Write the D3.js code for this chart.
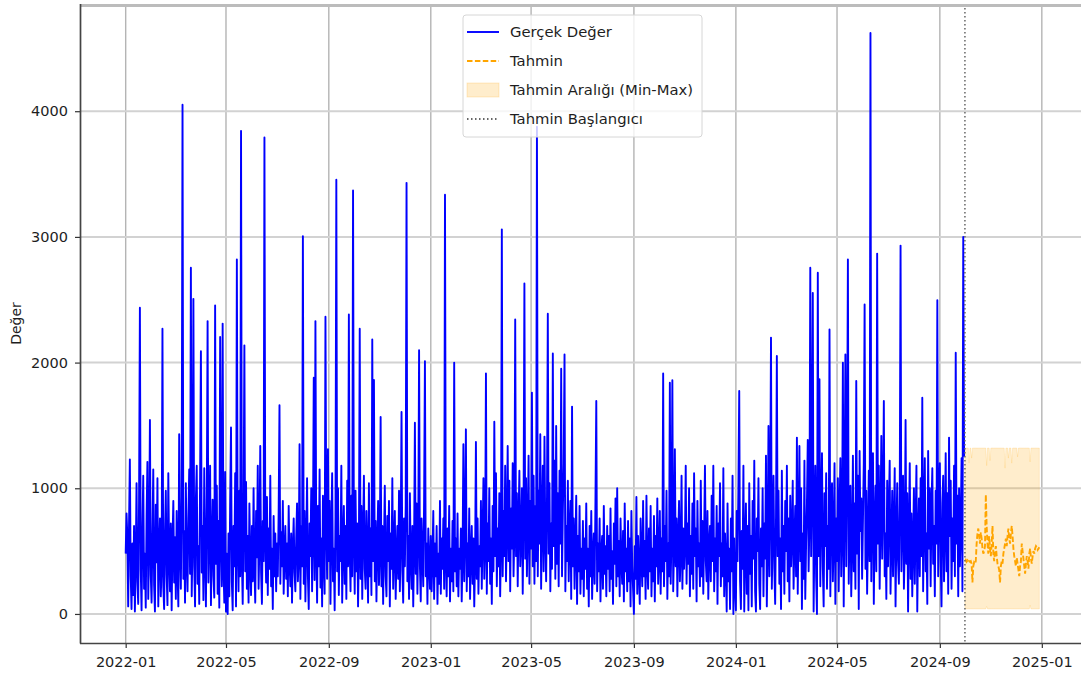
<!DOCTYPE html>
<html>
<head>
<meta charset="utf-8">
<script src="https://cdn.jsdelivr.net/npm/d3@7"></script>
<style>
  body { margin: 0; background: #fff; }
  svg { display: block; font-family: "DejaVu Sans", sans-serif; }
</style>
</head>
<body>
<svg id="chart" width="1081" height="681"></svg>
<script>
// daily values, one month per row
const actual2022 = [
  480, 800, 620, 60, 700, 1230, 300, 40, 560, 150, 700, 20, 420, 1040, 260, 80, 900, 2436, 350, 30, 650, 1100, 200, 480, 50, 780, 1210, 120, 540, 1544, 310,
  90, 620, 1150, 230, 20, 870, 410, 1080, 60, 500, 760, 140, 380, 2269, 220, 40, 640, 980, 310, 70, 1120, 450, 180, 720, 30, 560, 900, 250,
  610, 120, 820, 350, 60, 1430, 500, 200, 940, 4051, 280, 660, 90, 1040, 430, 180, 760, 1150, 320, 2754, 140, 600, 2507, 380, 60, 920, 1180, 240, 540, 80, 1060,
  2091, 330, 700, 110, 1160, 480, 60, 860, 2330, 250, 620, 1180, 70, 540, 910, 300, 130, 2455, 400, 1020, 160, 740, 50, 2204, 580, 220, 2310, 360, 90, 1130,
  20, 480, 0, 640, 140, 900, 1483, 250, 30, 700, 380, 1120, 60, 2820, 520, 180, 980, 300, 3844, 440, 80, 760, 2137, 340, 1050, 200, 620, 90, 880, 410, 150,
  700, 260, 1000, 380, 90, 820, 450, 1180, 200, 560, 1337, 330, 80, 740, 420, 3791, 600, 250, 930, 150, 680, 360, 1100, 220, 520, 40, 780, 300, 640, 180,
  560, 300, 820, 1660, 240, 650, 380, 900, 160, 470, 700, 280, 560, 140, 860, 420, 220, 640, 90, 520, 760, 330, 180, 600, 880, 260, 450, 1350, 120, 700, 380,
  3005, 240, 820, 100, 560, 1080, 300, 40, 720, 460, 1000, 180, 640, 1880, 270, 2330, 520, 90, 860, 380, 1150, 210, 600, 60, 940, 430, 160, 2365, 700, 280, 1310,
  420, 900, 80, 640, 1120, 260, 520, 30, 780, 3455, 340, 1000, 150, 620, 420, 1180, 90, 560, 860, 240, 700, 120, 1060, 380, 2383, 500, 180, 940, 300, 3370,
  600, 160, 980, 340, 720, 60, 520, 2269, 280, 860, 120, 640, 1100, 360, 200, 820, 480, 90, 1040, 300, 680, 150, 2184, 420, 1861, 260, 740, 100, 560, 900, 230,
  480, 1567, 220, 700, 80, 560, 1020, 300, 140, 780, 420, 900, 60, 640, 360, 1080, 200, 520, 820, 120, 460, 700, 280, 980, 180, 600, 1607, 340, 90, 760,
  380, 860, 3430, 260, 620, 120, 960, 440, 200, 700, 60, 540, 1522, 320, 880, 160, 600, 2099, 380, 100, 760, 460, 220, 900, 2012, 300, 560, 80, 680, 420, 200
];
const actual2023 = [
  620, 180, 440, 820, 120, 560, 300, 700, 80, 480, 240, 900, 160, 600, 360, 760, 200, 3336, 420, 140, 680, 300, 860, 100, 520, 260, 740, 180, 1999, 340, 600,
  220, 800, 140, 520, 360, 680, 100, 460, 1350, 260, 620, 1469, 180, 560, 300, 840, 120, 480, 700, 240, 600, 60, 440, 1369, 280, 760, 160, 540,
  380, 900, 200, 640, 1080, 280, 520, 1914, 160, 720, 420, 1000, 240, 600, 80, 860, 340, 1530, 460, 1120, 220, 680, 380, 960, 140, 560, 3060, 300, 820, 460, 1180,
  260, 700, 1337, 420, 1060, 180, 840, 520, 1200, 300, 640, 2343, 460, 960, 220, 760, 1140, 380, 600, 1000, 160, 820, 2629, 440, 1080, 300, 700, 1260, 240, 900,
  520, 1761, 380, 1100, 240, 860, 420, 3876, 300, 980, 560, 1430, 200, 760, 1180, 340, 1411, 640, 260, 900, 2388, 480, 1040, 180, 720, 360, 2073, 540, 1220, 280, 1496,
  400, 960, 220, 1140, 560, 1951, 300, 820, 1200, 2065, 180, 700, 420, 1060, 260, 640, 900, 120, 1650, 380, 760, 200, 560, 940, 80, 620, 340, 860, 160, 520,
  280, 740, 140, 600, 360, 880, 200, 520, 60, 700, 300, 820, 120, 460, 640, 240, 900, 1694, 180, 560, 340, 760, 100, 480, 620, 200, 860, 320, 540, 140, 700,
  360, 620, 180, 840, 280, 500, 80, 720, 400, 920, 220, 1000, 300, 580, 140, 760, 420, 240, 660, 100, 880, 340, 520, 180, 740, 260, 600, 60, 820, 380, 200,
  0, 540, 280, 930, 160, 620, 360, 80, 760, 440, 220, 900, 300, 580, 120, 940, 400, 200, 680, 340, 860, 140, 520, 260, 780, 100, 620, 380, 920, 240,
  460, 820, 160, 600, 340, 1914, 220, 700, 420, 980, 120, 560, 300, 1840, 240, 640, 1859, 180, 520, 1310, 380, 760, 140, 600, 900, 260, 480, 1100, 200, 680, 360,
  560, 1180, 240, 720, 400, 1000, 140, 620, 320, 880, 200, 1120, 460, 680, 100, 900, 380, 560, 220, 1060, 300, 740, 160, 620, 1180, 420, 260, 820, 120, 560,
  700, 260, 940, 420, 1180, 180, 600, 340, 860, 80, 720, 460, 1040, 220, 560, 300, 1160, 140, 640, 400, 20, 880, 260, 520, 40, 760, 340, 1100, 0, 600, 220
];
// 2024 runs until 2024-09-30
const actual2024 = [
  30, 820, 420, 1000, 1774, 260, 40, 660, 360, 1180, 20, 540, 880, 160, 700, 30, 1040, 320, 620, 60, 900, 440, 1220, 180, 20, 760, 500, 1080, 240, 40, 680,
  380, 1000, 140, 720, 440, 1260, 60, 560, 1496, 300, 860, 2199, 200, 640, 1100, 360, 80, 780, 2053, 460, 980, 240, 600, 40, 1140, 340, 700, 160, 900,
  500, 1180, 260, 760, 100, 940, 380, 620, 1060, 200, 540, 860, 300, 1403, 160, 700, 1337, 420, 1000, 40, 640, 280, 1220, 120, 560, 880, 1385, 340, 740, 2754, 460,
  1000, 2555, 20, 640, 1180, 300, 0, 2715, 460, 1867, 220, 820, 1280, 380, 60, 960, 540, 1120, 200, 700, 360, 2264, 140, 880, 1040, 260, 620, 1200, 80, 760,
  420, 1080, 180, 800, 1240, 300, 620, 1999, 60, 940, 2065, 380, 1160, 2820, 240, 700, 1020, 140, 560, 1260, 340, 880, 200, 1854, 480, 1100, 40, 1297, 660, 920, 280,
  740, 1200, 2462, 360, 980, 160, 620, 1140, 420, 4622, 260, 860, 1280, 80, 700, 1020, 340, 2867, 560, 1180, 200, 760, 1417, 440, 900, 1694, 300, 640, 120, 1060,
  380, 820, 1220, 160, 560, 980, 300, 700, 1160, 60, 620, 1040, 420, 240, 880, 2931, 340, 760, 1100, 200, 520, 1544, 400, 960, 20, 680, 1200, 280, 800, 140, 560,
  1000, 240, 720, 1180, 20, 600, 920, 300, 1080, 460, 1721, 180, 760, 1240, 340, 640, 80, 1297, 520, 1000, 220, 860, 1160, 400, 700, 140, 980, 560, 2496, 300, 820,
  1200, 420, 60, 880, 1100, 260, 700, 1280, 340, 960, 160, 1403, 620, 1060, 200, 760, 420, 1180, 300, 2078, 560, 940, 140, 1000, 380, 720, 1240, 180, 3000, 1250
];
// forecast from 2024-10-01, 90 days
const forecastValues = [
  420, 430, 415, 425, 410, 420, 415, 420, 400, 250,
  380, 410, 400, 420, 560, 640, 680, 620, 560, 650,
  600, 520, 480, 500, 540, 950, 700, 560, 480, 620,
  520, 460, 560, 700, 480, 420, 500, 540, 460, 400,
  380, 350, 250, 380, 420, 400, 480, 520, 560, 600,
  540, 620, 680, 600, 560, 640, 700, 620, 520, 460,
  420, 380, 450, 400, 350, 300, 380, 420, 560, 500,
  440, 380, 320, 400, 460, 420, 360, 480, 520, 440,
  400, 460, 500, 480, 520, 540, 530, 510, 520, 530
];
const forecastMin = [
  40, 40, 40, 40, 40, 40, 40, 40, 40, 40,
  40, 40, 40, 40, 40, 40, 40, 40, 40, 40,
  40, 40, 40, 40, 40, 40, 60, 40, 40, 40,
  40, 40, 40, 40, 40, 40, 40, 40, 40, 40,
  40, 40, 40, 40, 40, 40, 40, 40, 40, 40,
  40, 40, 40, 40, 40, 40, 40, 40, 40, 40,
  40, 40, 40, 40, 40, 40, 40, 40, 40, 40,
  40, 40, 40, 40, 40, 40, 40, 40, 70, 40,
  40, 40, 40, 40, 40, 40, 40, 40, 40, 40
];
const forecastMax = [
  1320, 1320, 1320, 1320, 1320, 1200, 1320, 1320, 1240, 1320,
  1320, 1320, 1320, 1320, 1320, 1320, 1320, 1320, 1320, 1320,
  1320, 1320, 1320, 1320, 1320, 1320, 1180, 1320, 1320, 1320,
  1220, 1320, 1320, 1320, 1320, 1320, 1320, 1320, 1320, 1320,
  1320, 1320, 1320, 1320, 1320, 1320, 1320, 1320, 1160, 1320,
  1320, 1320, 1240, 1320, 1320, 1320, 1200, 1320, 1320, 1320,
  1320, 1320, 1320, 1250, 1320, 1320, 1320, 1320, 1320, 1320,
  1320, 1320, 1320, 1320, 1320, 1320, 1320, 1320, 1210, 1320,
  1320, 1320, 1320, 1320, 1320, 1320, 1320, 1320, 1320, 1320
];
const yTicks = [0, 1000, 2000, 3000, 4000];
const legendLabels = ["Gerçek Değer", "Tahmin", "Tahmin Aralığı (Min-Max)", "Tahmin Başlangıcı"];
const yLabel = "Değer";

const actualStart = new Date(Date.UTC(2022, 0, 1));
const forecastStart = new Date(Date.UTC(2024, 9, 1));
const DAY = 864e5;

class ForecastChart {
  constructor(svg) {
    this.svg = svg;
    this.left = 80;
    this.right = 1085; // right edge falls just outside the picture
    this.top = 4;
    this.bottom = 643;
    this.fontSize = 14.5;
    this.lineWidth = 1.9; // the original is a little soft, lines read wider
  }

  loadData() {
    this.actual = actual2022.concat(actual2023, actual2024).map((v, i) => ({
      date: new Date(+actualStart + i * DAY), value: v
    }));
    this.forecast = forecastValues.map((v, i) => ({
      date: new Date(+forecastStart + i * DAY),
      value: v, min: forecastMin[i], max: forecastMax[i]
    }));
  }

  initialize() {
    // matplotlib style 5% padding on both axes
    const first = this.actual[0].date;
    const last = this.forecast[this.forecast.length - 1].date;
    const xPad = (last - first) * 0.05;
    this.x = d3.scaleUtc()
      .domain([new Date(+first - xPad), new Date(+last + xPad)])
      .range([this.left, this.right]);

    const all = this.actual.map(d => d.value)
      .concat(forecastValues, forecastMin, forecastMax);
    const [lo, hi] = d3.extent(all);
    const yPad = (hi - lo) * 0.05;
    this.y = d3.scaleLinear()
      .domain([lo - yPad, hi + yPad])
      .range([this.bottom, this.top]);

    this.xTicks = this.x.ticks(d3.utcMonth.every(4));
  }

  drawGrid() {
    const g = this.svg.append("g");
    g.selectAll(".vgrid")
      .data(this.xTicks)
      .enter()
      .append("line")
      .attr("x1", d => this.x(d)).attr("x2", d => this.x(d))
      .attr("y1", this.top).attr("y2", this.bottom)
      .style("stroke", "#b4b4b4")
      .style("stroke-width", 1.4);
    g.selectAll(".hgrid")
      .data(yTicks)
      .enter()
      .append("line")
      .attr("x1", this.left).attr("x2", this.right)
      .attr("y1", d => this.y(d)).attr("y2", d => this.y(d))
      .style("stroke", "#d2d2d2")
      .style("stroke-width", 2);
  }

  drawSeries() {
    this.svg.append("clipPath").attr("id", "plotclip")
      .append("rect")
      .attr("x", this.left).attr("y", this.top)
      .attr("width", this.right - this.left).attr("height", this.bottom - this.top);
    const g = this.svg.append("g").attr("clip-path", "url(#plotclip)");

    const band = d3.area()
      .x(d => this.x(d.date))
      .y0(d => this.y(d.min))
      .y1(d => this.y(d.max));
    g.append("path")
      .datum(this.forecast)
      .attr("d", band)
      .style("fill", "orange")
      .style("fill-opacity", 0.2)
      .style("stroke", "orange")
      .style("stroke-opacity", 0.2)
      .style("stroke-width", 0.8);

    const line = d3.line()
      .x(d => this.x(d.date))
      .y(d => this.y(d.value));
    g.append("path")
      .datum(this.actual)
      .attr("d", line)
      .style("fill", "none")
      .style("stroke", "blue")
      .style("stroke-width", this.lineWidth)
      .style("stroke-linejoin", "round");

    g.append("path")
      .datum(this.forecast)
      .attr("d", line)
      .style("fill", "none")
      .style("stroke", "orange")
      .style("stroke-width", this.lineWidth)
      .style("stroke-dasharray", "5.5,2.4");

    const xs = this.x(forecastStart);
    g.append("line")
      .attr("x1", xs).attr("x2", xs)
      .attr("y1", this.top).attr("y2", this.bottom)
      .style("stroke", "#666")
      .style("stroke-width", 1.5)
      .style("stroke-dasharray", "1.5,2.5");
  }

  drawAxes() {
    const fmt = d3.utcFormat("%Y-%m");
    const xAxis = this.svg.append("g")
      .attr("transform", `translate(0,${this.bottom})`)
      .call(d3.axisBottom(this.x).tickValues(this.xTicks).tickFormat(fmt).tickSize(5).tickPadding(9));
    const yAxis = this.svg.append("g")
      .attr("transform", `translate(${this.left},0)`)
      .call(d3.axisLeft(this.y).tickValues(yTicks).tickFormat(d3.format("d")).tickSize(5).tickPadding(7));

    [xAxis, yAxis].forEach(a => {
      a.select(".domain").remove();
      a.selectAll(".tick line").style("stroke", "#333").style("stroke-width", 1.2);
      a.selectAll(".tick text")
        .style("font-family", "DejaVu Sans")
        .style("font-size", this.fontSize + "px")
        .style("fill", "#1e1e1e");
    });

    // spines: top one looks washed out in the original
    this.svg.append("line")
      .attr("x1", this.left).attr("x2", 1081)
      .attr("y1", this.top + 1.5).attr("y2", this.top + 1.5)
      .style("stroke", "#bcbcbc").style("stroke-width", 3);
    this.svg.append("line")
      .attr("x1", this.left + 0.5).attr("x2", this.left + 0.5)
      .attr("y1", this.top).attr("y2", this.bottom + 0.5)
      .style("stroke", "#444").style("stroke-width", 1.7);
    this.svg.append("line")
      .attr("x1", this.left).attr("x2", this.right)
      .attr("y1", this.bottom + 0.5).attr("y2", this.bottom + 0.5)
      .style("stroke", "#444").style("stroke-width", 1.7);

    this.svg.append("text")
      .attr("transform", `translate(20.5,${(this.top + this.bottom) / 2}) rotate(-90)`)
      .style("text-anchor", "middle")
      .style("font-size", "14px")
      .style("fill", "#1e1e1e")
      .text(yLabel);
  }

  drawLegend() {
    const lg = this.svg.append("g").attr("transform", "translate(463,15)");
    lg.append("rect")
      .attr("width", 239).attr("height", 122).attr("rx", 3)
      .style("fill", "white").style("fill-opacity", 0.8)
      .style("stroke", "#d6d6d6").style("stroke-width", 1);

    const rowY = i => 17 + i * 29;
    const hx0 = 4, hx1 = 36;
    const styles = [
      { stroke: "blue", dash: null },
      { stroke: "orange", dash: "5.5,2.4" },
      null,
      { stroke: "#666", dash: "1.5,2.5" }
    ];
    legendLabels.forEach((label, i) => {
      const yy = rowY(i);
      if (styles[i]) {
        lg.append("line")
          .attr("x1", hx0).attr("x2", hx1)
          .attr("y1", yy).attr("y2", yy)
          .style("stroke", styles[i].stroke)
          .style("stroke-width", this.lineWidth)
          .style("stroke-dasharray", styles[i].dash);
      } else {
        lg.append("rect")
          .attr("x", hx0).attr("y", yy - 7)
          .attr("width", hx1 - hx0).attr("height", 14)
          .style("fill", "orange").style("fill-opacity", 0.2)
          .style("stroke", "orange").style("stroke-opacity", 0.2);
      }
      lg.append("text")
        .attr("x", 47).attr("y", yy)
        .attr("dy", "0.36em")
        .style("font-size", "14.8px")
        .style("fill", "#1e1e1e")
        .text(label);
    });
  }

  plot() {
    this.loadData();
    this.initialize();
    this.drawGrid();
    this.drawSeries();
    this.drawAxes();
    this.drawLegend();
  }
}

const chart = new ForecastChart(d3.select("#chart"));
chart.plot();
</script>
</body>
</html>
